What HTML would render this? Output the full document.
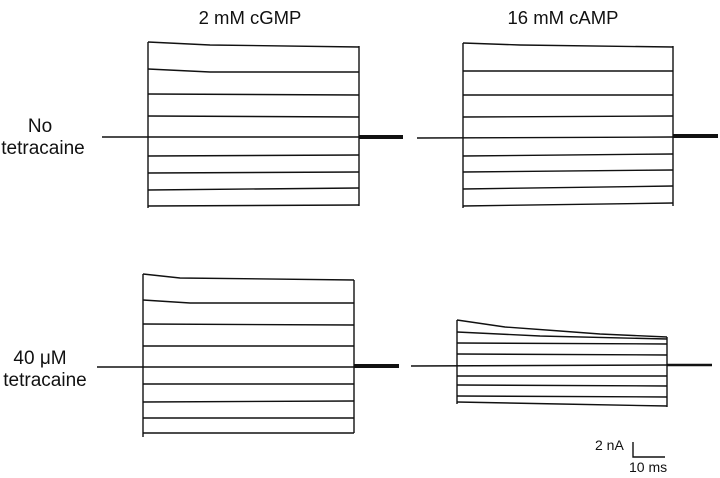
<!DOCTYPE html>
<html><head><meta charset="utf-8"><style>
html,body{margin:0;padding:0;background:#fff;}
svg{display:block;}
text{font-family:"Liberation Sans",sans-serif;fill:#111;}
</style></head><body>
<svg width="720" height="478" viewBox="0 0 720 478" xmlns="http://www.w3.org/2000/svg">
<g stroke="#111" stroke-width="1.4" fill="none">
<!-- Top-left panel -->
<line x1="148" y1="42" x2="148" y2="208"/>
<line x1="359" y1="46" x2="359" y2="206"/>
<polyline points="148,42 210,45 359,47"/>
<polyline points="148,69 210,72 359,72"/>
<line x1="148" y1="94" x2="359" y2="95"/>
<line x1="148" y1="116" x2="359" y2="117"/>
<line x1="102" y1="137" x2="359" y2="137"/>
<line x1="148" y1="156" x2="359" y2="155"/>
<line x1="148" y1="173" x2="359" y2="172"/>
<line x1="148" y1="190" x2="359" y2="188"/>
<line x1="148" y1="206" x2="359" y2="205"/>
<line x1="359" y1="137" x2="403" y2="137" stroke-width="4"/>
<!-- Top-right panel -->
<line x1="463" y1="43" x2="463" y2="208"/>
<line x1="673" y1="46" x2="673" y2="206"/>
<polyline points="463,43 520,45 673,47"/>
<line x1="463" y1="71" x2="673" y2="71"/>
<line x1="463" y1="95" x2="673" y2="95"/>
<line x1="463" y1="117" x2="673" y2="116"/>
<line x1="417" y1="138" x2="673" y2="137"/>
<line x1="463" y1="156" x2="673" y2="154"/>
<line x1="463" y1="172" x2="673" y2="170"/>
<line x1="463" y1="189" x2="673" y2="186"/>
<line x1="463" y1="206" x2="673" y2="203"/>
<line x1="673" y1="136" x2="718" y2="136" stroke-width="4"/>
<!-- Bottom-left panel -->
<line x1="143" y1="274" x2="143" y2="437"/>
<line x1="354" y1="280" x2="354" y2="433"/>
<polyline points="143,274 180,278 354,280"/>
<polyline points="143,300 190,303 354,303"/>
<line x1="143" y1="324" x2="354" y2="325"/>
<line x1="143" y1="346" x2="354" y2="346"/>
<line x1="97" y1="367" x2="354" y2="367"/>
<line x1="143" y1="384" x2="354" y2="384"/>
<line x1="143" y1="402" x2="354" y2="401"/>
<line x1="143" y1="418" x2="354" y2="418"/>
<line x1="143" y1="433" x2="354" y2="433"/>
<line x1="354" y1="366" x2="399" y2="366" stroke-width="4"/>
<!-- Bottom-right panel -->
<line x1="457" y1="320" x2="457" y2="404"/>
<line x1="667" y1="337" x2="667" y2="407"/>
<polyline points="457,320 505,327 560,331 600,334 667,337"/>
<polyline points="457,332 540,336 667,339"/>
<line x1="457" y1="343" x2="667" y2="344"/>
<line x1="457" y1="354" x2="667" y2="355"/>
<line x1="411" y1="366" x2="667" y2="365"/>
<line x1="457" y1="376" x2="667" y2="376"/>
<line x1="457" y1="385" x2="667" y2="386"/>
<line x1="457" y1="396" x2="667" y2="397"/>
<polyline points="457,402 560,404 667,406"/>
<line x1="667" y1="365" x2="712" y2="365" stroke-width="2.5"/>
<!-- Scale bar -->
<polyline points="633,442 633,457 665,457"/>
</g>
<text x="250" y="24" font-size="18.5" text-anchor="middle">2 mM cGMP</text>
<text x="563" y="24" font-size="18.5" text-anchor="middle">16 mM cAMP</text>
<text x="40" y="132" font-size="19" text-anchor="middle">No</text>
<text x="43" y="154" font-size="19" text-anchor="middle">tetracaine</text>
<text x="40" y="364" font-size="19" text-anchor="middle">40 μM</text>
<text x="45" y="386" font-size="19" text-anchor="middle">tetracaine</text>
<text x="595" y="450" font-size="14">2 nA</text>
<text x="629" y="472" font-size="14">10 ms</text>
</svg>
</body></html>
